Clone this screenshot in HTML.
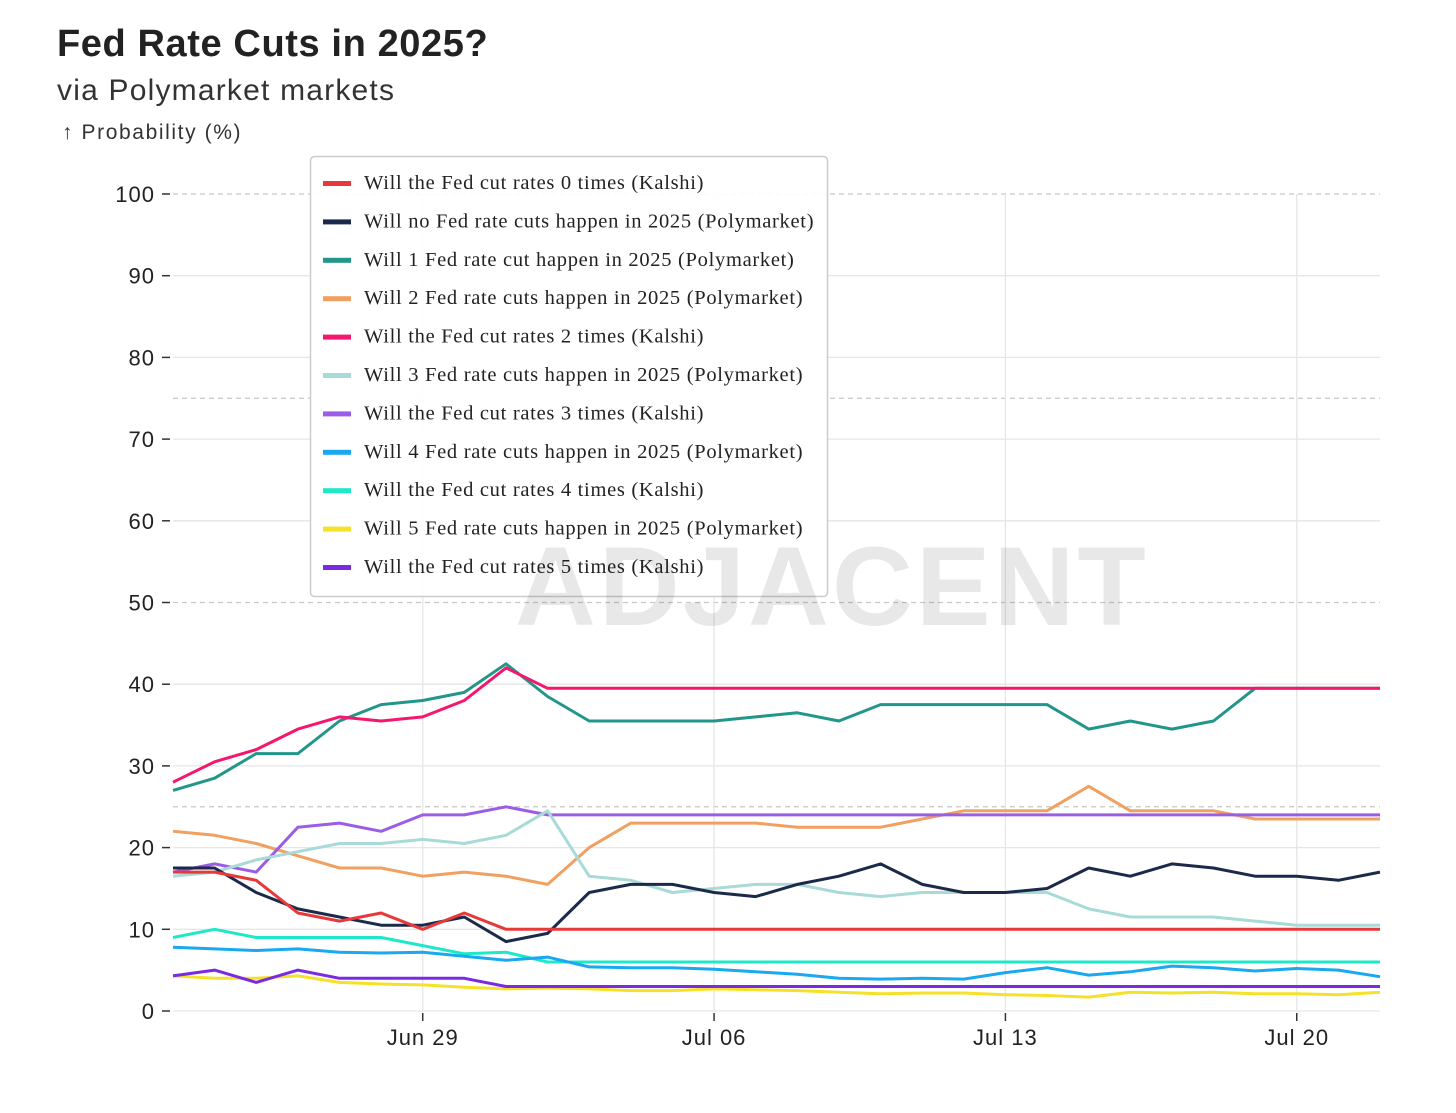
<!DOCTYPE html>
<html><head><meta charset="utf-8"><style>
body{margin:0;background:#fff;width:1456px;height:1108px;overflow:hidden;font-family:"Liberation Sans",sans-serif}
</style></head><body>
<svg width="1456" height="1108">
<text x="57" y="56" font-size="38" font-weight="bold" fill="#222" letter-spacing="0.6">Fed Rate Cuts in 2025?</text>
<text x="57" y="100" font-size="30" fill="#333" letter-spacing="1.2">via Polymarket markets</text>
<text x="62" y="139" font-size="21" fill="#333" letter-spacing="1.6">↑ Probability (%)</text>
<g id="grid"></g>
<g id="series"></g>
<g id="legend"></g>
<text x="515" y="625" font-size="112" font-weight="bold" fill="#000" fill-opacity="0.09" letter-spacing="3">ADJACENT</text>
</svg>
<script>
const dateLabels=["Jun 29","Jul 06","Jul 13","Jul 20"];
const dateIdx=[6,13,20,27];
const yTicks=[0,10,20,30,40,50,60,70,80,90,100];
const names=["Will the Fed cut rates 0 times (Kalshi)","Will no Fed rate cuts happen in 2025 (Polymarket)","Will 1 Fed rate cut happen in 2025 (Polymarket)","Will 2 Fed rate cuts happen in 2025 (Polymarket)","Will the Fed cut rates 2 times (Kalshi)","Will 3 Fed rate cuts happen in 2025 (Polymarket)","Will the Fed cut rates 3 times (Kalshi)","Will 4 Fed rate cuts happen in 2025 (Polymarket)","Will the Fed cut rates 4 times (Kalshi)","Will 5 Fed rate cuts happen in 2025 (Polymarket)","Will the Fed cut rates 5 times (Kalshi)"];
const colors=["#e8393a","#1b2a4a","#22968a","#f0a060","#f5176e","#a8dad8","#9b5de5","#1aa8f0","#1de8c8","#f5e02a","#7a2ae0"];
const k0=[17,17,16,12,11,12,10,12,10,10,10,10,10,10,10,10,10,10,10,10,10,10,10,10,10,10,10,10,10,10];
const pNo=[17.5,17.5,14.5,12.5,11.5,10.5,10.5,11.5,8.5,9.5,14.5,15.5,15.5,14.5,14,15.5,16.5,18,15.5,14.5,14.5,15,17.5,16.5,18,17.5,16.5,16.5,16,17];
const p1=[27,28.5,31.5,31.5,35.5,37.5,38,39,42.5,38.5,35.5,35.5,35.5,35.5,36,36.5,35.5,37.5,37.5,37.5,37.5,37.5,34.5,35.5,34.5,35.5,39.5,39.5,39.5,39.5];
const p2=[22,21.5,20.5,19,17.5,17.5,16.5,17,16.5,15.5,20,23,23,23,23,22.5,22.5,22.5,23.5,24.5,24.5,24.5,27.5,24.5,24.5,24.5,23.5,23.5,23.5,23.5];
const k2=[28,30.5,32,34.5,36,35.5,36,38,42,39.5,39.5,39.5,39.5,39.5,39.5,39.5,39.5,39.5,39.5,39.5,39.5,39.5,39.5,39.5,39.5,39.5,39.5,39.5,39.5,39.5];
const p3=[16.5,17,18.5,19.5,20.5,20.5,21,20.5,21.5,24.5,16.5,16,14.5,15,15.5,15.5,14.5,14,14.5,14.5,14.5,14.5,12.5,11.5,11.5,11.5,11,10.5,10.5,10.5];
const k3=[17,18,17,22.5,23,22,24,24,25,24,24,24,24,24,24,24,24,24,24,24,24,24,24,24,24,24,24,24,24,24];
const p4=[7.8,7.6,7.4,7.6,7.2,7.1,7.2,6.7,6.2,6.6,5.4,5.3,5.3,5.1,4.8,4.5,4,3.9,4,3.9,4.7,5.3,4.4,4.8,5.5,5.3,4.9,5.2,5,4.2];
const k4=[9,10,9,9,9,9,8,7,7.2,6,6,6,6,6,6,6,6,6,6,6,6,6,6,6,6,6,6,6,6,6];
const p5=[4.3,4,4,4.3,3.5,3.3,3.2,2.9,2.7,2.8,2.7,2.5,2.5,2.7,2.6,2.5,2.3,2.1,2.2,2.2,2,1.9,1.7,2.3,2.2,2.3,2.1,2.1,2,2.3];
const k5=[4.3,5,3.5,5,4,4,4,4,3,3,3,3,3,3,3,3,3,3,3,3,3,3,3,3,3,3,3,3,3,3];
const series=[k0,pNo,p1,p2,k2,p3,k3,p4,k4,p5,k5];
const drawOrder=[2,4,3,6,5,1,0,8,7,9,10];
const X0=173,X1=1380,Y0=1011,Y100=194,N=30;
const x=i=>X0+(X1-X0)*i/(N-1);
const y=v=>Y0-(Y0-Y100)*v/100;
const NS="http://www.w3.org/2000/svg";
function mk(t,a,p){const e=document.createElementNS(NS,t);for(const k in a)e.setAttribute(k,a[k]);p.appendChild(e);return e;}
const g=document.getElementById('grid');
yTicks.forEach(v=>{
 const dashed=v%25===0&&v>0;
 const l=mk('line',{x1:X0,x2:X1,y1:y(v),y2:y(v),stroke:dashed?'#c8c8c8':'#e6e6e6','stroke-width':1.3,'stroke-dasharray':dashed?'5,4':'none'},g);
 
 
 const t=mk('line',{x1:X0-11,x2:X0-3,y1:y(v),y2:y(v),stroke:'#333','stroke-width':1.5},g);
 
 
 const tx=mk('text',{x:X0-18,y:y(v)+8,'text-anchor':'end','font-size':22,'letter-spacing':1,fill:'#222'},g);
 tx.textContent=v;
 
 
});
[75,25].forEach(v=>{const l=mk('line',{x1:X0,x2:X1,y1:y(v),y2:y(v),stroke:'#c8c8c8','stroke-width':1.3,'stroke-dasharray':'5,4'},g);
 
 });
dateIdx.forEach((d,j)=>{
 const l=mk('line',{x1:x(d),x2:x(d),y1:Y100,y2:Y0,stroke:'#e6e6e6','stroke-width':1.3},g);
 
 
 const t=mk('line',{x1:x(d),x2:x(d),y1:Y0+2,y2:Y0+10,stroke:'#333','stroke-width':1.5},g);
 
 
 const tx=mk('text',{x:x(d),y:Y0+34,'text-anchor':'middle','font-size':22,'letter-spacing':1,fill:'#222'},g);
 tx.textContent=dateLabels[j];
 
 
});
const sg=document.getElementById('series');
drawOrder.forEach(s=>{
 const pts=series[s].map((v,i)=>x(i).toFixed(1)+','+y(v).toFixed(1)).join(' ');
 const p=mk('polyline',{points:pts,fill:'none',stroke:colors[s],'stroke-width':3,'stroke-linejoin':'round'},sg);
 
 
});
const lg=document.getElementById('legend');
const box=mk('rect',{x:310.5,y:156.5,width:517,height:440,rx:4,fill:'#fff','fill-opacity':0.93,stroke:'#ccc','stroke-width':1.5},lg);


names.forEach((n,i)=>{
 const yy=183+i*38.4;
 const sw=mk('rect',{x:323,y:yy-2,width:28,height:5,fill:colors[i]},lg);
 
 
 const t=mk('text',{x:364,y:yy+6,'font-size':20.5,'letter-spacing':0.7,fill:'#222','font-family':'Liberation Serif, serif'},lg);
 t.textContent=n;
 
 
});
</script>
</body></html>
